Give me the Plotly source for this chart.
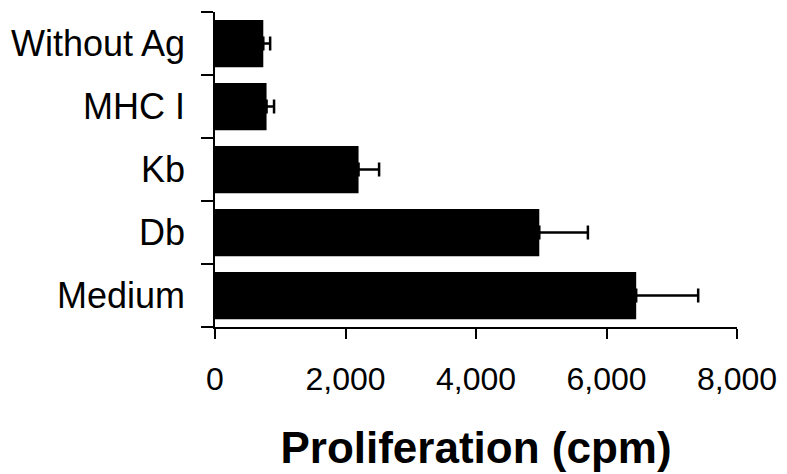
import plotly.graph_objects as go

categories = ["Medium", "Db", "Kb", "MHC I", "Without Ag"]
proliferation = [6455, 4970, 2200, 790, 740]
error_plus = [950, 745, 315, 115, 105]
x_ticks = [0, 2000, 4000, 6000, 8000]

fig = go.Figure()
fig.add_trace(go.Bar(
    y=categories,
    x=proliferation,
    orientation="h",
    marker=dict(color="black", line=dict(width=0)),
    error_x=dict(type="data", symmetric=False, array=error_plus,
                 arrayminus=[0] * len(error_plus),
                 color="black", thickness=2.5, width=7),
))

# the page body adds an 8px offset, so the figure is sized to fit the window
fig.update_layout(
    width=779, height=466,
    margin=dict(l=207, r=50, t=4, b=147),
    paper_bgcolor="white", plot_bgcolor="white",
    bargap=0.25,
    showlegend=False,
    font=dict(family="Liberation Sans, Arial, sans-serif", color="black"),
)
fig.update_xaxes(
    range=[0, 8000], tickvals=x_ticks, tickformat=",d",
    showline=True, linecolor="black", linewidth=1.5,
    ticks="outside", ticklen=10, tickcolor="black", tickwidth=1.5,
    showgrid=False, zeroline=False,
    tickfont=dict(size=32),
    ticklabelstandoff=13,
    title=dict(text="<b>Proliferation (cpm)</b>", font=dict(size=44), standoff=36),
)
fig.update_yaxes(
    categoryorder="array", categoryarray=categories,
    showline=True, linecolor="black", linewidth=1.5,
    ticks="outside", ticklen=12, tickcolor="black", tickwidth=1.5,
    tickson="boundaries",
    showgrid=False, zeroline=False,
    tickfont=dict(size=36),
    ticklabelstandoff=21,
)

fig.write_html("out.html")
